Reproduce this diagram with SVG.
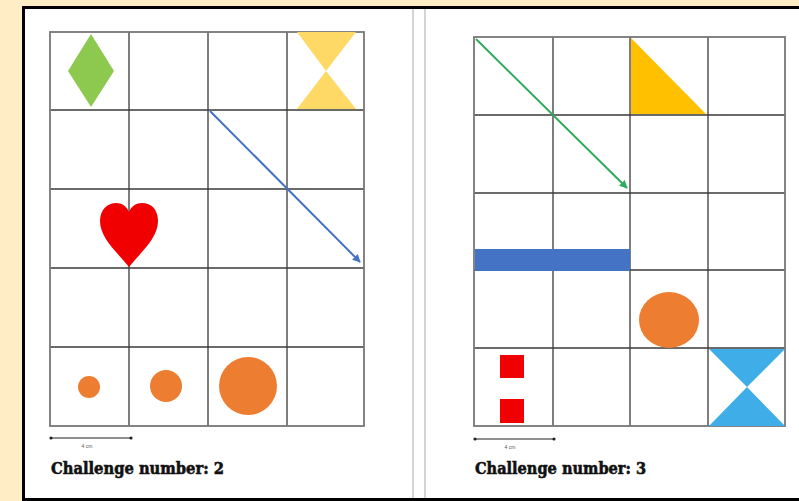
<svg xmlns="http://www.w3.org/2000/svg" width="799" height="501" viewBox="0 0 799 501">
<defs>
<style>
.grid{fill:none;stroke:#3a3a3a;stroke-width:1.3}
.outer{fill:none;stroke:#777;stroke-width:1.8}
.orange{fill:#ED7D31}
.red{fill:#F00000}
.title{font-family:"DejaVu Serif","Liberation Serif",serif;font-weight:bold;font-size:16px;fill:#111;stroke:#111;stroke-width:0.6}
.small{font-family:"Liberation Sans",sans-serif;font-size:5px;fill:#555}
.scale{stroke:#222;stroke-width:1.2}
</style>
<marker id="ab" viewBox="0 0 10 10" refX="9" refY="5" markerWidth="4" markerHeight="4" orient="auto"><path d="M0,0L10,5L0,10z" fill="#4472C4"/></marker>
<marker id="ag" viewBox="0 0 10 10" refX="9" refY="5" markerWidth="4" markerHeight="4" orient="auto"><path d="M0,0L10,5L0,10z" fill="#2EAA5C"/></marker>
</defs>
<rect width="799" height="501" fill="#FFEDC6"/>
<rect x="23.5" y="7.5" width="790" height="492" fill="#fff" stroke="#000" stroke-width="3"/>
<line x1="413" y1="9" x2="413" y2="498" stroke="#D4D4D4" stroke-width="2"/>
<line x1="425" y1="9" x2="425" y2="498" stroke="#D4D4D4" stroke-width="2"/>

<g id="page2">
<g id="grid2">
<path class="grid" d="M129,32V426M208,32V426M287,32V426M50,110H364M50,189H364M50,268H364M50,347H364"/>
<rect class="outer" x="50" y="32" width="314" height="394"/>
</g>
<polygon id="diamond" points="91,34 114,71 91,107 68,71" fill="#8DC84F"/>
<polygon id="hourglass-yellow" points="297,32 356,32 326,71 356,109 297,109 326,71" fill="#FFD966"/>
<path id="heart" class="red" d="M129,267 C117,252 100,238 100,221 C100,209 108,203 116,203 C123,203 127,207 129,212 C131,207 135,203 142,203 C151,203 158,209 158,221 C158,238 141,252 129,267Z"/>
<circle class="orange" cx="89" cy="387" r="11"/>
<circle class="orange" cx="166" cy="386" r="16"/>
<circle class="orange" cx="248" cy="386" r="29"/>
<g id="scale2">
<line class="scale" x1="51" y1="438" x2="131" y2="438"/>
<circle cx="51" cy="438" r="1.6" fill="#222"/><circle cx="131" cy="438" r="1.6" fill="#222"/>
<text class="small" x="87" y="448" text-anchor="middle">4 cm</text>
</g>
<text class="title" x="51" y="474" textLength="173" lengthAdjust="spacingAndGlyphs">Challenge number: 2</text>
</g>

<g id="page3">
<g id="grid3">
<path class="grid" d="M553,37V426M630,37V426M708,37V426M474,115H785M474,193H785M474,270H785M474,348H785"/>
<rect class="outer" x="474" y="37" width="311" height="389"/>
</g>
<polygon id="triangle" points="631,38 631,114 706,114" fill="#FFC000"/>
<rect id="bar" x="475" y="249" width="155" height="22" fill="#4472C4"/>
<ellipse class="orange" cx="669" cy="320" rx="30" ry="28"/>
<rect class="red" x="500" y="355" width="24" height="23"/>
<rect class="red" x="500" y="399" width="24" height="24"/>
<polygon id="hourglass-blue" points="709,349 785,349 747,387 785,426 709,426 747,387" fill="#3FAEE8"/>
<g id="scale3">
<line class="scale" x1="475" y1="439" x2="554" y2="439"/>
<circle cx="475" cy="439" r="1.6" fill="#222"/><circle cx="554" cy="439" r="1.6" fill="#222"/>
<text class="small" x="510" y="449" text-anchor="middle">4 cm</text>
</g>
<text class="title" x="475" y="474" textLength="171" lengthAdjust="spacingAndGlyphs">Challenge number: 3</text>
</g>

<g id="connectors">
<line x1="210" y1="111" x2="360" y2="262" stroke="#4472C4" stroke-width="2" marker-end="url(#ab)"/>
<line x1="476" y1="39" x2="627" y2="188" stroke="#2EAA5C" stroke-width="2" marker-end="url(#ag)"/>
</g>
</svg>
